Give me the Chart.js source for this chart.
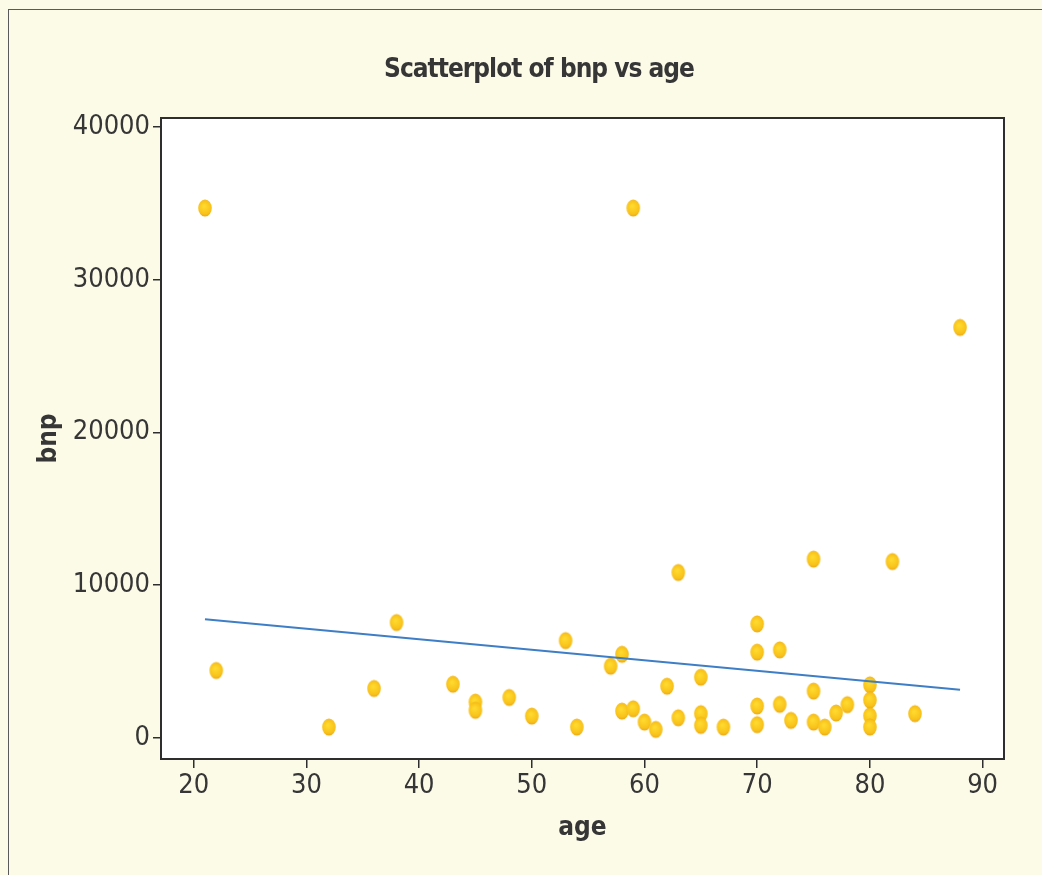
<!DOCTYPE html>
<html lang="en">
<head>
    <meta charset="UTF-8">
    <title>Scatterplot of bnp vs age</title>
    <script src="https://cdn.jsdelivr.net/npm/chart.js"></script>
    <style>
        body {
            margin: 0;
            background: #fcfbe8;
            width: 1042px;
            height: 875px;
            overflow: hidden;
            position: relative;
        }

        .frame {
            position: absolute;
            left: 8px;
            top: 9px;
            width: 1100px;
            height: 900px;
            border: 1px solid #5a5a5a;
        }

        #plot {
            position: absolute;
            left: 0;
            top: 0;
        }
    </style>
</head>
<body>

    <div class="frame"></div>
    <canvas id="plot" width="1042" height="875"></canvas>

    <script>
        // patients: age (years) and bnp level
        const age = [21, 22, 32, 36, 38, 43, 45, 45, 48, 50, 53, 54, 57, 58, 58, 59, 59, 60, 61, 62, 63, 63,
                     65, 65, 65, 67, 70, 70, 70, 70, 72, 72, 73, 75, 75, 75, 76, 77, 78, 80, 80, 80, 80, 82, 84, 88];
        const bnp = [34700, 4400, 690, 3220, 7540, 3500, 2330, 1790, 2630, 1410, 6360, 690, 4680, 5460, 1740, 34700, 1890, 1020, 540, 3370, 10820, 1300,
                     3960, 1570, 800, 690, 7450, 5600, 2070, 850, 5750, 2180, 1130, 11700, 3050, 1020, 690, 1610, 2160, 3460, 2460, 1430, 690, 11540, 1570, 26880];

        // fitted line end points
        const fitAge = [21, 88];
        const fitBnp = [7760, 3140];

        const ageTicks = [20, 30, 40, 50, 60, 70, 80, 90];
        const bnpTicks = [0, 10000, 20000, 30000, 40000];

        const points = age.map((a, i) => ({ x: a, y: bnp[i] }));
        const fitLine = fitAge.map((a, i) => ({ x: a, y: fitBnp[i] }));

        // yellow oval marker
        function makeDot() {
            let c = document.createElement("canvas");
            c.width = 16;
            c.height = 20;
            let g = c.getContext("2d");
            let grad = g.createRadialGradient(7, 8, 1, 8, 10, 9);
            grad.addColorStop(0, "#ffd92e");
            grad.addColorStop(0.7, "#f8c21a");
            grad.addColorStop(1, "#e9a214");
            g.beginPath();
            g.ellipse(8, 10, 6.8, 8.6, 0, 0, Math.PI * 2);
            g.fillStyle = grad;
            g.fill();
            return c;
        }

        const FONT = "'DejaVu Sans Condensed', 'Liberation Sans Narrow', 'DejaVu Sans', sans-serif";
        const INK = "#363636";

        // white plot panel with a dark frame, and the heading above it
        const panel = {
            id: "panel",
            beforeDatasetsDraw(chart) {
                const { ctx, chartArea: a } = chart;
                ctx.save();
                ctx.fillStyle = "#ffffff";
                ctx.fillRect(a.left, a.top, a.right - a.left, a.bottom - a.top);
                ctx.restore();
            },
            afterDraw(chart, args, opts) {
                const { ctx, chartArea: a } = chart;
                ctx.save();
                ctx.strokeStyle = "#2e2e2e";
                ctx.lineWidth = 2;
                ctx.strokeRect(a.left, a.top, a.right - a.left, a.bottom - a.top);

                ctx.fillStyle = INK;
                ctx.font = "bold 26px " + FONT;
                ctx.textAlign = "center";
                ctx.textBaseline = "middle";
                if (ctx.letterSpacing !== undefined) ctx.letterSpacing = "-1px";
                ctx.fillText(opts.heading, opts.x, opts.y);
                ctx.restore();
            }
        };

        new Chart(document.getElementById("plot"), {
            type: "scatter",
            data: {
                datasets: [{
                    label: "bnp",
                    data: points,
                    pointStyle: makeDot(),
                    order: 2
                }, {
                    label: "fit",
                    type: "line",
                    data: fitLine,
                    borderColor: "#3e7ec6",
                    borderWidth: 2,
                    pointRadius: 0,
                    fill: false,
                    order: 1
                }]
            },
            options: {
                responsive: false,
                animation: false,
                layout: { padding: { left: 0, right: 38, top: 118, bottom: 0 } },
                plugins: {
                    legend: { display: false },
                    tooltip: { enabled: false },
                    panel: { heading: "Scatterplot of bnp vs age", x: 539, y: 70 }
                },
                scales: {
                    x: {
                        type: "linear",
                        min: 17.1,
                        max: 91.9,
                        afterFit(scale) { scale.height = 116; },
                        afterBuildTicks(scale) { scale.ticks = ageTicks.map(v => ({ value: v })); },
                        border: { display: false },
                        grid: { drawOnChartArea: false, drawTicks: true, tickLength: 9, color: "#2e2e2e", lineWidth: 1.5 },
                        ticks: { color: INK, padding: 2, font: { family: FONT, size: 27 }, callback: v => String(v) },
                        title: {
                            display: true,
                            text: "age",
                            color: INK,
                            font: { family: FONT, size: 26, weight: "bold", lineHeight: 1.2 },
                            padding: { top: 0, bottom: 31 }
                        }
                    },
                    y: {
                        min: -1400,
                        max: 40600,
                        afterFit(scale) { scale.width = 161; },
                        afterBuildTicks(scale) { scale.ticks = bnpTicks.map(v => ({ value: v })); },
                        border: { display: false },
                        grid: { drawOnChartArea: false, drawTicks: true, tickLength: 8, color: "#2e2e2e", lineWidth: 1.5 },
                        ticks: { color: INK, padding: 3, font: { family: FONT, size: 27 }, callback: v => String(v) },
                        title: {
                            display: true,
                            text: "bnp",
                            color: INK,
                            font: { family: FONT, size: 26, weight: "bold", lineHeight: 1.2 },
                            padding: { top: 34, bottom: 0 }
                        }
                    }
                }
            },
            plugins: [panel]
        });
    </script>

</body>
</html>
